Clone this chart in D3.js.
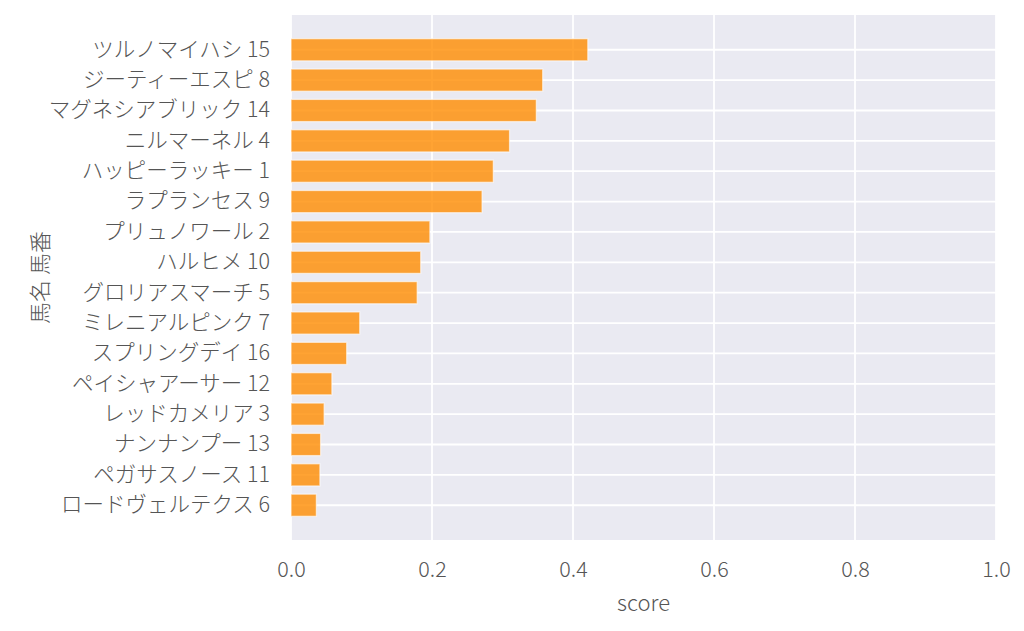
<!DOCTYPE html>
<meta charset="utf-8">
<script src="https://d3js.org/d3.v7.min.js"></script>
<style>
  body { margin: 0px; background: #fff; }
  text { font-family: "Noto Sans CJK JP Light", "Noto Sans CJK JP", "Noto Sans", sans-serif; font-weight: 300; fill: #555; }
  .tick text { font-size: 21.5px; }
  .axis-label { font-size: 22px; }
</style>
<div id="my_dataviz"></div>
<script>

// horse names + numbers, top to bottom
const horses = [
  'ツルノマイハシ 15', 'ジーティーエスピ 8', 'マグネシアブリック 14', 'ニルマーネル 4',
  'ハッピーラッキー 1', 'ラプランセス 9', 'プリュノワール 2', 'ハルヒメ 10',
  'グロリアスマーチ 5', 'ミレニアルピンク 7', 'スプリングデイ 16', 'ペイシャアーサー 12',
  'レッドカメリア 3', 'ナンナンプー 13', 'ペガサスノース 11', 'ロードヴェルテクス 6'
];
const scores = [0.421, 0.357, 0.348, 0.310, 0.287, 0.271, 0.197, 0.184,
                0.179, 0.0975, 0.079, 0.058, 0.047, 0.042, 0.041, 0.036];
const xTicks = [0, 0.2, 0.4, 0.6, 0.8, 1.0];

const xLabel = 'score';
const yLabel = '馬名 馬番';

var margin = {top: 15, right: 28, bottom: 91, left: 291},
    width = 1024 - margin.left - margin.right,
    height = 631 - margin.top - margin.bottom;

var svg = d3.select("#my_dataviz")
  .append("svg")
    .attr("width", 1024)
    .attr("height", 631)
  .append("g")
    .attr("transform", "translate(" + margin.left + "," + margin.top + ")");

// background
svg.append("rect")
  .attr("width", width)
  .attr("height", height)
  .style("fill", "#EAEAF2");

var x = d3.scaleLinear().domain([0, 1]).range([0, width]);
var y = d3.scaleBand().domain(horses).range([0, height])
  .paddingInner(0.27).paddingOuter(0.78);

// grid lines
svg.selectAll(".vgrid")
  .data(xTicks)
  .enter().append("line")
    .attr("x1", d => x(d)).attr("x2", d => x(d))
    .attr("y1", 0).attr("y2", height)
    .style("stroke", "#fff").style("stroke-width", 1.8);
svg.selectAll(".hgrid")
  .data(horses)
  .enter().append("line")
    .attr("x1", 0).attr("x2", width)
    .attr("y1", d => y(d) + y.bandwidth() / 2).attr("y2", d => y(d) + y.bandwidth() / 2)
    .style("stroke", "#fff").style("stroke-width", 1.8);

// bars
svg.selectAll(".bar")
  .data(horses)
  .enter().append("rect")
    .attr("x", x(0))
    .attr("y", d => y(d))
    .attr("width", (d, i) => x(scores[i]) - x(0))
    .attr("height", y.bandwidth())
    .style("fill", "#ff8c00")
    .style("fill-opacity", 0.8)
    .style("stroke", "#fff")
    .style("stroke-opacity", 0.6)
    .style("stroke-width", 1.3);

// axes
var xAxis = svg.append("g")
  .attr("transform", "translate(0," + height + ")")
  .call(d3.axisBottom(x).tickValues(xTicks).tickFormat(d3.format(".1f")).tickSize(0).tickPadding(22));
xAxis.select(".domain").remove();

var yAxis = svg.append("g")
  .call(d3.axisLeft(y).tickSize(0).tickPadding(21));
yAxis.select(".domain").remove();

// labels
svg.append("text")
  .attr("class", "axis-label")
  .attr("x", width / 2)
  .attr("y", height + 71)
  .style("text-anchor", "middle")
  .text(xLabel);

svg.append("text")
  .attr("class", "axis-label")
  .attr("transform", "rotate(-90)")
  .attr("x", -height / 2)
  .attr("y", -243)
  .style("text-anchor", "middle")
  .text(yLabel);

</script>
